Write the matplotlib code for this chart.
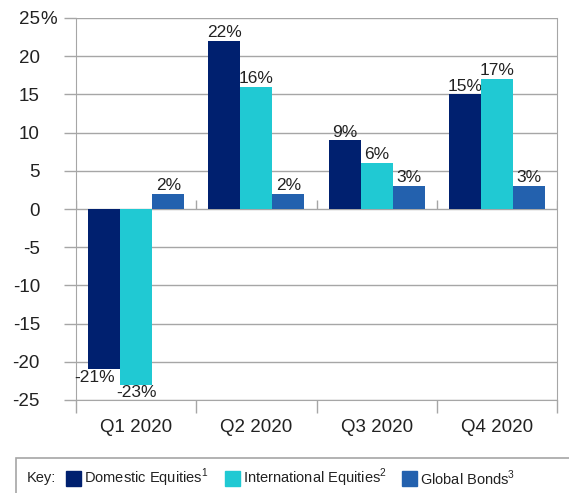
import matplotlib.pyplot as plt
import numpy as np
from matplotlib.patches import Rectangle

plt.rcParams.update({'font.family': 'Liberation Sans', 'font.size': 13,
                     'mathtext.fontset': 'custom', 'mathtext.rm': 'Liberation Sans'})

quarters = ['Q1 2020', 'Q2 2020', 'Q3 2020', 'Q4 2020']
domestic = [-21, 22, 9, 15]
international = [-23, 16, 6, 17]
bonds = [2, 2, 3, 3]
series_names = ['Domestic Equities', 'International Equities', 'Global Bonds']
colors = ['#00206F', '#20C9D3', '#2361AE']
yticks = [25, 20, 15, 10, 5, 0, -5, -10, -15, -20, -25]

W, H = 569, 493
fig = plt.figure(figsize=(W / 100, H / 100), dpi=100)
ax = fig.add_axes([76 / W, 1 - 400 / H, (557 - 76) / W, (400 - 18) / H])

grid_c = '#A6A6A6'
txt_c = '#222222'
x = np.arange(len(quarters))
bw = 0.2667
for k, (vals, c) in enumerate(zip([domestic, international, bonds], colors)):
    pos = x + (k - 1) * bw
    ax.bar(pos, vals, width=bw, color=c, zorder=3)
    for px, v in zip(pos, vals):
        if v >= 0:
            ax.annotate(f'{v}%', (px, v), xytext=(0, 0.5), textcoords='offset points',
                        ha='center', va='bottom', color=txt_c, fontsize=12.5)
        else:
            # shift the first label left so it clears the deeper neighbour bar
            dx = -7 if k == 0 else 0
            ax.annotate(f'{v}%', (px, v), xytext=(dx, -0.5), textcoords='offset points',
                        ha='center', va='top', color=txt_c, fontsize=12.5)

ax.set_xlim(-0.5, len(quarters) - 0.5)
ax.set_ylim(-25, 25)
ax.set_yticks(yticks)
ax.set_yticklabels([str(t) for t in yticks])
ax.annotate('%', (0, 25), xycoords=('axes fraction', 'data'), xytext=(-36, 0),
            textcoords='offset pixels', ha='left', va='center_baseline', color=txt_c,
            fontsize=13.5)
ax.grid(axis='y', color=grid_c, lw=1, zorder=0)
ax.tick_params(axis='y', length=9, color=grid_c, width=1, pad=17, labelsize=13.5,
               labelcolor=txt_c)

ax.set_xticks(x)
ax.set_xticklabels(quarters)
ax.set_xticks(np.arange(len(quarters) + 1) - 0.5, minor=True)
ax.tick_params(axis='x', which='major', length=0, pad=14, labelsize=13.5,
               labelcolor=txt_c)
ax.tick_params(axis='x', which='minor', length=9, color=grid_c, width=1)

# small ticks on the zero line between groups
ax.vlines(np.arange(len(quarters) + 1) - 0.5, 0, 1.2, color=grid_c, lw=1, zorder=2)

for s in ['left', 'right', 'bottom', 'top']:
    ax.spines[s].set_color(grid_c)
ax.spines['top'].set_visible(False)

# key box at the bottom
fig.patches.append(Rectangle((16 / W, -0.05), 1, (493 - 458) / H + 0.05,
                             transform=fig.transFigure, fill=False,
                             edgecolor='#A6A6A6', lw=1.2))
ky = 1 - 478 / H
fig.text(27 / W, ky, 'Key:', ha='left', va='center', fontsize=10.5, color=txt_c)
sq_x = [66, 225, 402]
for i, (name, c) in enumerate(zip(series_names, colors)):
    fig.patches.append(Rectangle((sq_x[i] / W, 1 - 486 / H), 15 / W, 15 / H,
                                 transform=fig.transFigure, color=c))
    fig.text((sq_x[i] + 18) / W, ky, name + f'$^{{{i + 1}}}$', ha='left', va='center',
             fontsize=10.5, color=txt_c)

fig.savefig('out.png', dpi=100)
